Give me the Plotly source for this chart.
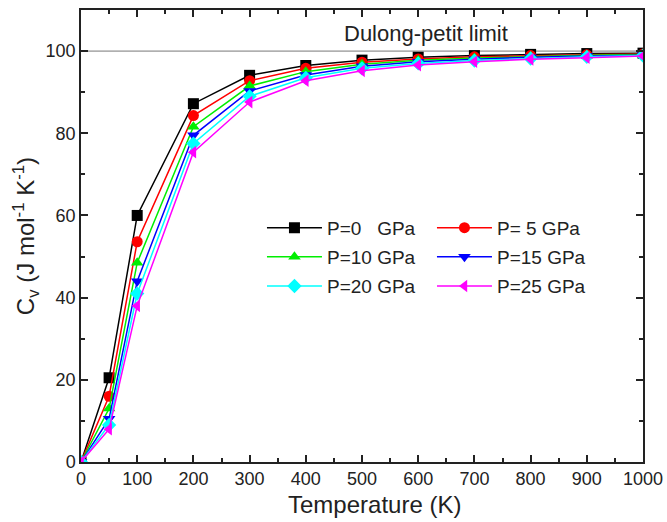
import plotly.graph_objects as go

temperature = [0, 50, 100, 200, 300, 400, 500, 600, 700, 800, 900, 1000]

cv_p0 = [0, 20.5, 60.0, 87.2, 94.1, 96.5, 97.8, 98.5, 98.9, 99.2, 99.4, 99.5]
cv_p5 = [0, 16.0, 53.6, 84.3, 92.8, 95.8, 97.3, 98.1, 98.6, 98.9, 99.1, 99.3]
cv_p10 = [0, 13.0, 48.5, 81.6, 91.5, 95.0, 96.8, 97.8, 98.3, 98.7, 99.0, 99.2]
cv_p15 = [0, 10.5, 44.0, 79.5, 90.3, 94.2, 96.3, 97.4, 98.0, 98.5, 98.8, 99.0]
cv_p20 = [0, 9.0, 41.0, 77.5, 89.0, 93.5, 95.8, 97.0, 97.7, 98.2, 98.6, 98.9]
cv_p25 = [0, 8.0, 38.0, 75.4, 87.6, 92.8, 95.2, 96.6, 97.4, 98.0, 98.4, 98.8]

series_names = ["P=0\u00a0\u00a0\u00a0GPa", "P=\u00a05 GPa", "P=10 GPa", "P=15 GPa", "P=20 GPa", "P=25 GPa"]
series_values = [cv_p0, cv_p5, cv_p10, cv_p15, cv_p20, cv_p25]
series_colors = ["#000000", "#ff0000", "#00ee00", "#0000ff", "#00ffff", "#ff00ff"]
series_symbols = ["square", "circle", "triangle-up", "triangle-down", "diamond", "triangle-left"]
series_legend = ["legend", "legend", "legend2", "legend2", "legend3", "legend3"]

dulong_petit = 100
dulong_label = "Dulong-petit limit"
x_title = "Temperature (K)"

FONT = "Arial, Liberation Sans, sans-serif"
TXT = "#222222"

fig = go.Figure()

fig.add_hline(y=dulong_petit, line=dict(color="#777777", width=1), layer="below")

for name, vals, col, sym, lg in zip(series_names, series_values, series_colors, series_symbols, series_legend):
    fig.add_trace(go.Scatter(
        x=temperature, y=vals, name=name, mode="lines+markers",
        line=dict(color=col, width=1.5),
        marker=dict(symbol=sym, size=11, color=col),
        legend=lg,
    ))

fig.add_annotation(x=614, y=dulong_petit, xref="x", yref="y", text=dulong_label,
                   showarrow=False, yanchor="bottom", yshift=3,
                   font=dict(family=FONT, size=22, color=TXT))

fig.add_annotation(x=0.523, y=0, xref="paper", yref="paper", text=x_title,
                   showarrow=False, yanchor="top", yshift=-27,
                   font=dict(family=FONT, size=24, color=TXT))

leg_common = dict(orientation="h", entrywidth=100, entrywidthmode="pixels",
                  xanchor="left", yanchor="middle", bgcolor="rgba(0,0,0,0)",
                  font=dict(family=FONT, size=19, color=TXT), itemwidth=55)

lx = 0.322
fig.update_layout(
    width=667, height=522,
    margin=dict(l=81, r=24, t=10, b=60, autoexpand=False),
    paper_bgcolor="white", plot_bgcolor="white",
    font=dict(family=FONT, size=18, color=TXT),
    legend=dict(x=lx, y=0.518, **leg_common),
    legend2=dict(x=lx, y=0.4535, **leg_common),
    legend3=dict(x=lx, y=0.389, **leg_common),
    xaxis=dict(
        range=[0, 1000], dtick=100, tick0=0,
        ticks="inside", ticklen=7, tickwidth=1.5, tickcolor="#222",
        minor=dict(dtick=50, ticks="inside", ticklen=4, tickwidth=1.5, tickcolor="#222"),
        showline=True, linecolor="#222", linewidth=1.5, mirror="ticks",
        showgrid=False, zeroline=False,
        tickfont=dict(family=FONT, size=18, color=TXT),
    ),
    yaxis=dict(
        range=[0, 110], dtick=20, tick0=0,
        ticks="inside", ticklen=7, tickwidth=1.5, tickcolor="#222",
        minor=dict(dtick=10, ticks="inside", ticklen=4, tickwidth=1.5, tickcolor="#222"),
        showline=True, linecolor="#222", linewidth=1.5, mirror="ticks",
        showgrid=False, zeroline=False,
        tickfont=dict(family=FONT, size=18, color=TXT),
        title=dict(text="C<sub>v</sub> (J mol<sup>-1</sup> K<sup>-1</sup>)",
                   font=dict(family=FONT, size=24, color=TXT), standoff=4),
    ),
)

fig.write_html("out.html")
